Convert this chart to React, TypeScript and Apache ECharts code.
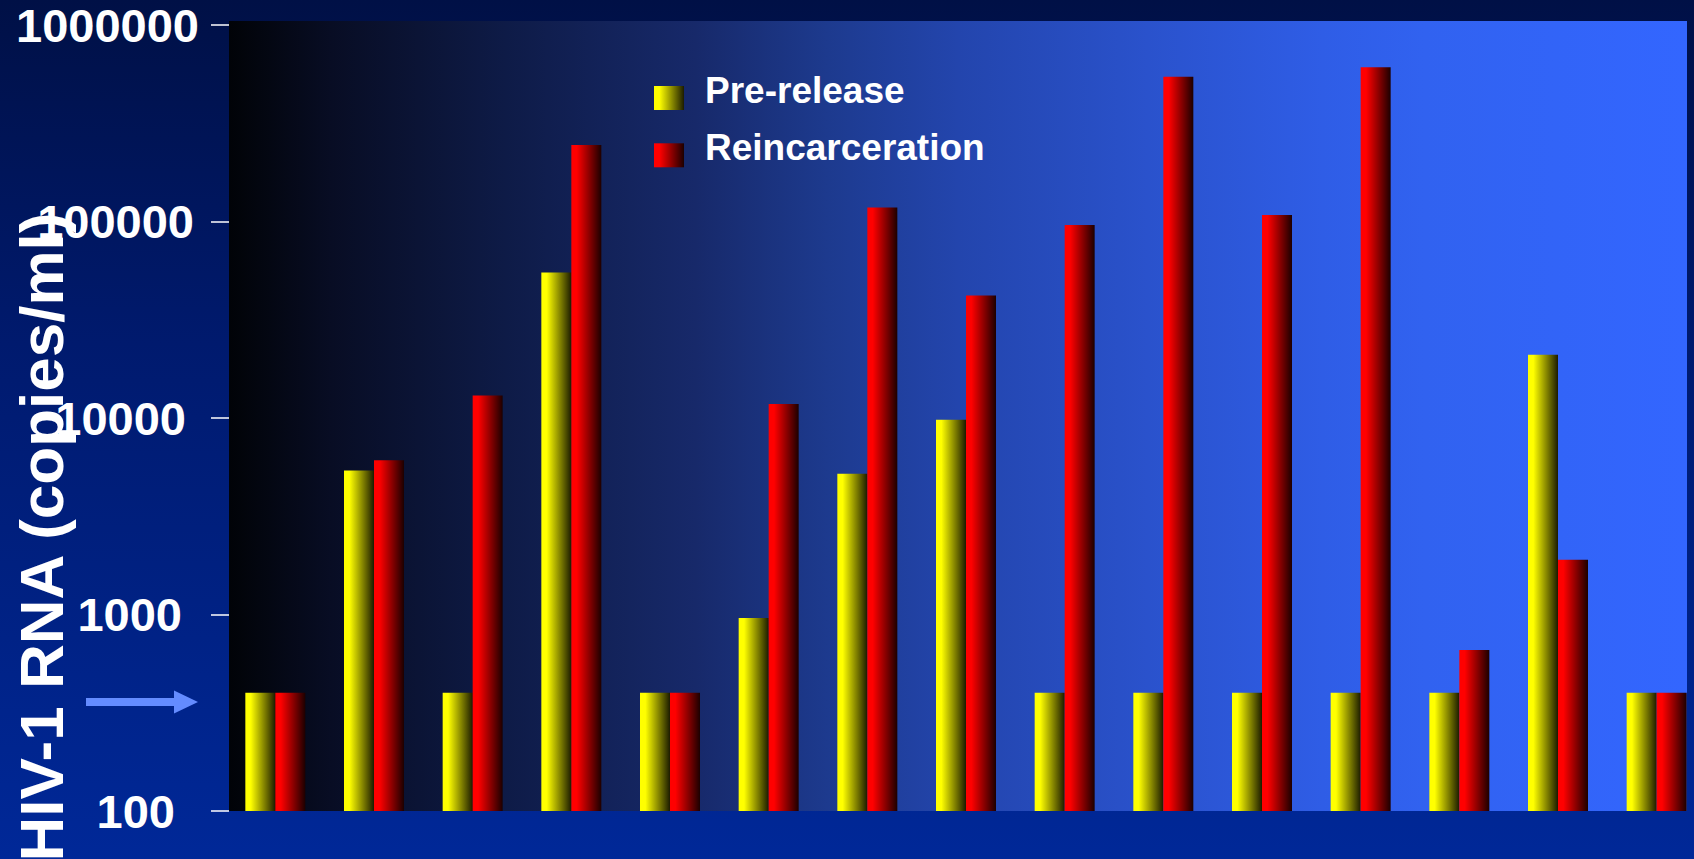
import React, { useEffect, useRef } from "react";
import * as echarts from "echarts";

const patients = ["1", "2", "3", "4", "5", "6", "7", "8", "9", "10", "11", "12", "13", "14", "15"];
const preRelease = [400, 5400, 400, 55000, 400, 960, 5200, 9800, 400, 400, 400, 400, 400, 21000, 400];
const reincarceration = [400, 6100, 13000, 245000, 400, 11800, 118000, 42000, 96000, 545000, 108000, 610000, 660, 1900, 400];
const seriesNames = ["Pre-release", "Reincarceration"];
const yMin = 100;
const yMax = 1000000;
const axisTitle = "HIV-1 RNA (copies/ml)";

const FONT = "'Liberation Sans', Arial, Helvetica, sans-serif";

export default function App() {
  const ref = useRef<HTMLDivElement>(null);

  useEffect(() => {
    if (!ref.current) return;
    document.body.style.overflow = "hidden";
    const chart = echarts.init(ref.current, null, { renderer: "svg" });

    const barGrad = (c0: string, c1: string) =>
      new echarts.graphic.LinearGradient(0, 0, 1, 0, [
        { offset: 0, color: c0 },
        { offset: 0.18, color: c0 },
        { offset: 1, color: c1 },
      ]);

    const labelPad: Record<number, number> = { 7: 0, 6: 5, 5: 13, 4: 17, 3: 24 };
    const rich: Record<string, any> = {};
    Object.keys(labelPad).forEach((k) => {
      rich["l" + k] = {
        color: "#ffffff",
        fontSize: 47,
        fontWeight: "bold",
        fontFamily: FONT,
        padding: [0, labelPad[Number(k)], 0, 0],
      };
    });

    const option: any = {
      animation: false,
      grid: { left: 226, top: 25, width: 1480, height: 786, containLabel: false },
      legend: {
        orient: "vertical",
        left: 654,
        top: 70,
        padding: 0,
        itemWidth: 30,
        itemHeight: 40,
        itemGap: 17.3,
        icon: "path://M0,0L0,0M0,16L30,16L30,40L0,40Z",
        selectedMode: false,
        data: seriesNames,
        textStyle: {
          color: "#ffffff",
          fontSize: 37,
          fontWeight: "bold",
          fontFamily: FONT,
          padding: [0, 0, 0, 16],
        },
      },
      xAxis: {
        type: "category",
        data: patients,
        axisLine: { show: false },
        axisTick: { show: false },
        axisLabel: { show: false },
        splitLine: { show: false },
      },
      yAxis: {
        type: "log",
        logBase: 10,
        min: yMin,
        max: yMax,
        offset: -3,
        axisLine: { show: false },
        axisTick: { show: true, length: 18, lineStyle: { color: "#ffffff", width: 1.5 } },
        splitLine: { show: false },
        axisLabel: {
          margin: 30,
          align: "right",
          color: "#ffffff",
          fontSize: 47,
          fontWeight: "bold",
          fontFamily: FONT,
          formatter: (v: number) => {
            const s = String(Math.round(v));
            return "{l" + s.length + "|" + s + "}";
          },
          rich,
        },
      },
      graphic: [
        {
          type: "rect",
          z: -10,
          silent: true,
          shape: { x: 229, y: 21, width: 1458, height: 790 },
          style: {
            fill: new echarts.graphic.LinearGradient(0, 0, 1, 0, [
              { offset: 0, color: "#010307" },
              { offset: 0.07, color: "#080d24" },
              { offset: 0.19, color: "#0e1b47" },
              { offset: 0.32, color: "#17296a" },
              { offset: 0.41, color: "#1d3a8e" },
              { offset: 0.5, color: "#2345ad" },
              { offset: 0.63, color: "#2a52cc" },
              { offset: 0.75, color: "#2f5de6" },
              { offset: 0.82, color: "#3162f0" },
              { offset: 1, color: "#3366ff" },
            ]),
          },
        },
        {
          type: "text",
          x: 41.6,
          y: 537,
          rotation: Math.PI / 2,
          silent: true,
          style: {
            text: axisTitle,
            fill: "#ffffff",
            font: "bold 62px " + FONT,
            align: "center",
            verticalAlign: "middle",
          },
        },
        {
          type: "polygon",
          silent: true,
          shape: {
            points: [
              [86, 698],
              [174, 698],
              [174, 690.5],
              [198, 702],
              [174, 713.5],
              [174, 706],
              [86, 706],
            ],
          },
          style: { fill: "#648cff" },
        },
      ],
      series: [
        {
          name: seriesNames[0],
          type: "bar",
          data: preRelease,
          barWidth: 30,
          barGap: "0%",
          itemStyle: { color: barGrad("#ffff00", "#1c1c00") },
          emphasis: { disabled: true },
        },
        {
          name: seriesNames[1],
          type: "bar",
          data: reincarceration,
          barWidth: 30,
          barGap: "0%",
          itemStyle: { color: barGrad("#ff0000", "#1c0000") },
          emphasis: { disabled: true },
        },
      ],
    };

    chart.setOption(option);
    return () => chart.dispose();
  }, []);

  return (
    <div
      ref={ref}
      style={{
        position: "fixed",
        left: 0,
        top: 0,
        width: 1712,
        height: 859,
        background: "linear-gradient(180deg, #001046 0%, #001a6e 40%, #002898 100%)",
      }}
    />
  );
}
